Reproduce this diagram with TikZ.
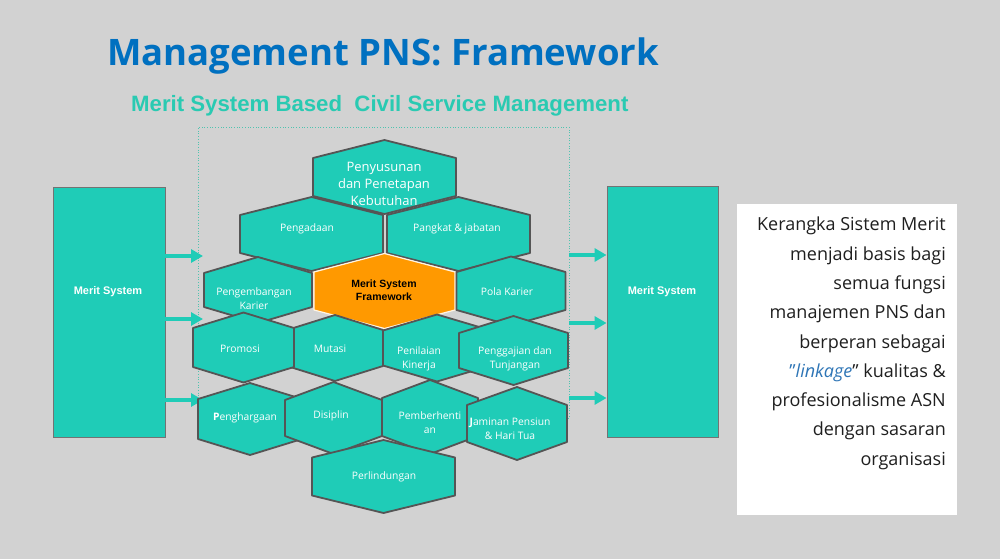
\documentclass[tikz,border=0pt]{standalone}
\usepackage{fontspec}
\setmainfont{Open Sans}
\newfontfamily\lib{Liberation Sans}
\usetikzlibrary{arrows.meta}
\definecolor{bgc}{RGB}{210,210,210}
\definecolor{teal}{RGB}{31,204,183}
\definecolor{hexline}{RGB}{85,85,85}
\definecolor{boxline}{RGB}{115,115,115}
\definecolor{orangefill}{RGB}{255,153,0}
\definecolor{titleblue}{RGB}{0,112,192}
\definecolor{subteal}{RGB}{42,202,178}
\definecolor{linkblue}{RGB}{46,117,182}
\definecolor{framec}{RGB}{80,195,175}
\newcommand\hexa[6][]{\filldraw[hexst,#1] (#2,{#3-#5-#6}) -- ({#2+#4},{#3-#5}) -- ({#2+#4},{#3+#5}) -- (#2,{#3+#5+#6}) -- ({#2-#4},{#3+#5}) -- ({#2-#4},{#3-#5}) -- cycle;}
\tikzset{
  hexst/.style={fill=teal, draw=hexline, line width=1.8pt, line join=round},
  orangehex/.style={fill=orangefill, draw=white!90!orangefill, line width=1.2pt},
  mbox/.style={fill=teal, draw=boxline, line width=0.9pt, inner sep=0},
  mbtxt/.style={text=white, font=\lib\bfseries\fontsize{11}{13}\selectfont, inner sep=0},
  hext/.style={text=white, font=\fontsize{10.3}{13.5}\selectfont, align=center, inner sep=0},
  arr/.style={draw=teal, line width=4pt, -{Triangle[length=12pt,width=13pt]}},
  framest/.style={draw=framec, line width=0.7pt, dotted, inner sep=0}
}
\begin{document}
\begin{tikzpicture}[x=1pt,y=-1pt]
\useasboundingbox (0,0) rectangle (1000,559);
\fill[bgc] (0,0) rectangle (1000,559);

% title
\node[anchor=base west, inner sep=0, text=titleblue, font=\fontsize{36.5}{40}\selectfont\bfseries] (title) at (107,66) {Management PNS: Framework};
\node[anchor=base west, inner sep=0, text=subteal, font=\lib\bfseries\fontsize{22.2}{24}\selectfont] (sub) at (131,112) {Merit System Based\ \ Civil Service Management};

% dotted frame
\node[framest, minimum width=371pt, minimum height=291pt] (frm) at (383.5,272.5) {};

% side boxes
\node[mbox, minimum width=112pt, minimum height=250pt] (msl) at (109,312.5) {};
\node[mbtxt] (msltxt) at (108,292) {Merit System};
\node[mbox, minimum width=111pt, minimum height=251pt] (msr) at (662.5,311.5) {};
\node[mbtxt] (msrtxt) at (662,292) {Merit System};

% arrows
\coordinate (l1) at (203,256);
\coordinate (l2) at (203,319);
\coordinate (l3) at (203,400);
\draw[arr] (msl.east |- l1) -- (l1);
\draw[arr] (msl.east |- l2) -- (l2);
\draw[arr] (msl.east |- l3) -- (l3);
\coordinate (r1) at (569,255);
\coordinate (r2) at (569,323);
\coordinate (r3) at (569,398);
\draw[arr] (r1) -- (r1 -| msr.west);
\draw[arr] (r2) -- (r2 -| msr.west);
\draw[arr] (r3) -- (r3 -| msr.west);

% hexagons
\hexa{384.5}{177}{71.5}{19}{18}
\hexa{311.5}{234}{71.5}{19}{18}
\hexa{458.5}{234}{71.5}{19}{18}
\hexa{258}{290}{54}{17}{16}
\hexa[orangehex]{384.5}{291}{70.5}{19}{18.5}
\hexa{511}{291}{54.5}{19}{15.5}
\hexa{335}{348}{48}{18}{15}
\hexa{243.5}{347.5}{50.5}{19.5}{15.5}
\hexa{437}{348}{54}{17.5}{16}
\hexa{513.5}{350.5}{54.5}{17.5}{17}
\hexa{250}{419}{52}{20}{16}
\hexa{333.5}{418}{48.5}{18}{18}
\hexa{430}{417}{48}{19}{18}
\hexa{517}{423.5}{50}{18.5}{18}
\hexa{383.5}{476.5}{71.5}{19}{17.5}

% hexagon texts
\node[hext, font=\fontsize{13}{16.7}\selectfont] (t1) at (384,184) {Penyusunan\\dan Penetapan\\Kebutuhan};
\node[hext] (t2) at (307,229) {Pengadaan};
\node[hext] (t3) at (457,229) {Pangkat \& jabatan};
\node[hext] (t4) at (254,298.5) {Pengembangan\\Karier};
\node[hext, text=black, font=\lib\bfseries\fontsize{10.5}{13}\selectfont] (t5) at (384,290) {Merit System\\Framework};
\node[hext] (t6) at (507,292) {Pola Karier};
\node[hext] (t7) at (240,349) {Promosi};
\node[hext] (t8) at (330,349) {Mutasi};
\node[hext] (t9) at (419,359) {Penilaian\\Kinerja};
\node[hext] (t10) at (515,359) {Penggajian dan\\Tunjangan};
\node[hext] (t11) at (245,418) {\textbf{P}enghargaan};
\node[hext] (t12) at (331,416) {Disiplin};
\node[hext] (t13) at (430,422.5) {Pemberhenti\\an};
\node[hext] (t14) at (510,429) {\textbf{J}aminan Pensiun\\\& Hari Tua};
\node[hext] (t15) at (384,477) {Perlindungan};

% white text box
\node[fill=white, minimum width=220pt, minimum height=311pt, inner sep=0] (wb) at (847,359.5) {};
\node[anchor=north east, align=right, inner sep=0, text=black!88, font=\fontsize{18}{29.3}\selectfont] (wbt) at (946,217) {Kerangka Sistem Merit\\menjadi basis bagi\\semua fungsi\\manajemen PNS dan\\berperan sebagai\\{\color{linkblue}\char34\textit{linkage}}\char34{} kualitas \&\\profesionalisme ASN\\dengan sasaran\\organisasi};
\end{tikzpicture}
\end{document}
